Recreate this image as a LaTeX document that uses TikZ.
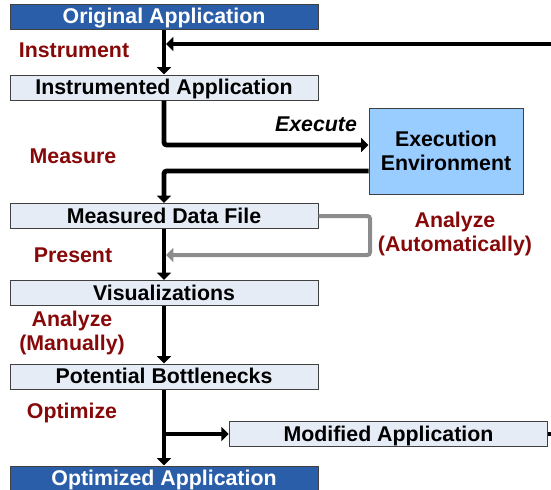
\documentclass[tikz,border=0pt]{standalone}
\usepackage{fontspec}
\setmainfont{Liberation Sans}
\usetikzlibrary{arrows.meta}
\definecolor{appblue}{RGB}{42,94,168}
\definecolor{stagefill}{RGB}{230,236,246}
\definecolor{envblue}{RGB}{153,204,255}
\definecolor{labelred}{RGB}{134,8,8}
\definecolor{autogray}{RGB}{140,140,140}
\begin{document}
\begin{tikzpicture}[x=0.75pt, y=-0.75pt,
  every node/.style={font=\fontsize{16}{18}\selectfont\bfseries},
  stage/.style={draw=black!75, line width=0.75pt, fill=stagefill, minimum width=231pt, minimum height=18.75pt, inner sep=0pt, text depth=0.5pt},
  endstage/.style={stage, fill=appblue, text=white},
  env/.style={draw=black!75, line width=0.75pt, fill=envblue, minimum width=115.5pt, minimum height=64.5pt, align=center, inner sep=0pt},
  steplabel/.style={text=labelred, align=center},
  flow/.style={line width=3.6pt, rounded corners=2pt, -{Triangle[length=5.5pt,width=10.5pt]}},
  autoflow/.style={flow, draw=autogray, line width=3pt}]
\useasboundingbox (0,0) rectangle (551,490);
% stages
\node[endstage] (orig) at (164, 16.5) {Original Application};
\node[stage] (instr) at (164, 87.5) {Instrumented Application};
\node[env] (exec) at (446, 151) {Execution\\Environment};
\node[stage] (meas) at (164, 216) {Measured Data File};
\node[stage] (vis) at (164, 293) {Visualizations};
\node[stage] (bott) at (164, 376.5) {Potential Bottlenecks};
\node[stage, minimum width=239pt] (modif) at (388.5, 434) {Modified Application};
\node[endstage] (optim) at (164, 478.5) {Optimized Application};
% labels
\node[steplabel] (instrlbl) at (74, 50) {Instrument};
\node (execlbl) at (316, 124) {\itshape Execute};
\node[steplabel] (measlbl) at (73, 156) {Measure};
\node[steplabel] (autolbl) at (455, 234) {Analyze\\(Automatically)};
\node[steplabel] (preslbl) at (73, 255) {Present};
\node[steplabel] (manlbl) at (72, 333) {Analyze\\(Manually)};
\node[steplabel] (optlbl) at (72, 413) {Optimize};
% free ends of the loop
\coordinate (loopin) at (551, 44);
\coordinate (loopout) at (551, 434);
\coordinate (autoturn) at (370, 255);
% connectors
\draw[flow] (orig.south) -- (instr.north);
\draw[flow, shorten >=1.5pt] (loopin) -- (loopin -| instr.north);
\draw[flow] (instr.south) |- ([yshift=4.5pt]exec.west);
\draw[flow] ([yshift=-15pt]exec.west) -| (meas.north);
\draw[autoflow, shorten >=1.5pt] (meas.east) -| (autoturn) -- (autoturn -| meas.south);
\draw[flow] (meas.south) -- (vis.north);
\draw[flow] (vis.south) -- (bott.north);
\draw[flow] (bott.south) -- (optim.north);
\draw[flow] (bott.south |- modif.west) -- (modif.west);
\draw[line width=3.6pt] (modif.east) -- (loopout);
\end{tikzpicture}
\end{document}
